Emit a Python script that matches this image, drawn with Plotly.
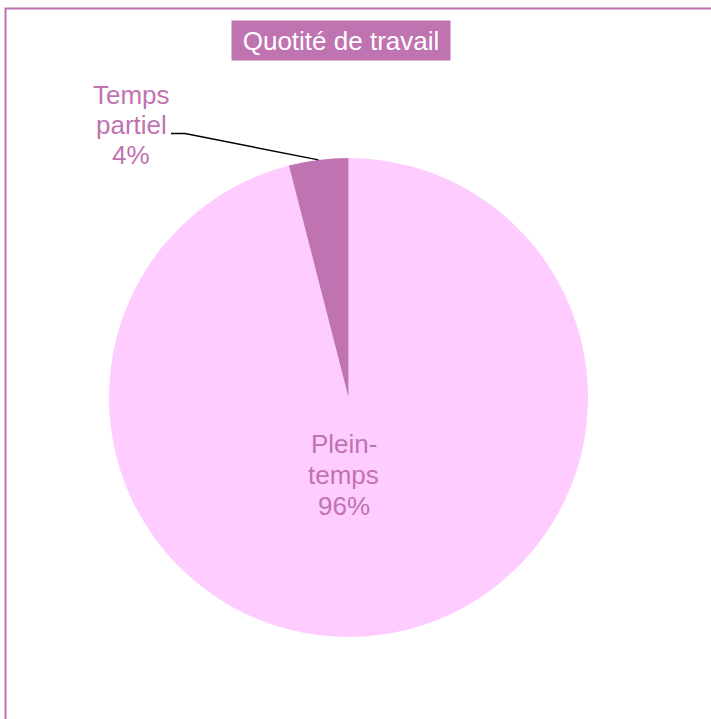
import math
import plotly.graph_objects as go

# Data
categories = ["Plein-temps", "Temps partiel"]
label_lines = [["Plein-", "temps"], ["Temps", "partiel"]]
values = [96, 4]
title_text = "Quotité de travail"

W, H = 711, 719
PURPLE = "#BF73B1"
PINK = "#FFCCFF"
FONT = "Liberation Sans, Arial, sans-serif"

# Pie geometry (pixels)
cx, cy, r = 348.5, 397.5, 239.5

def px(x):
    return x / W

def py(y):
    return 1 - y / H

fig = go.Figure()
fig.add_trace(go.Pie(
    labels=categories,
    values=values,
    textinfo="none",
    marker=dict(colors=[PINK, PURPLE], line=dict(width=0)),
    sort=False,
    direction="clockwise",
    rotation=0,
    showlegend=False,
    hoverinfo="label+percent",
    domain=dict(x=[px(cx - r), px(cx + r)], y=[py(cy + r), py(cy - r)]),
))

total = sum(values)
pcts = [round(v / total * 100) for v in values]

# Temps partiel leader: point on the slice edge at its mid angle (computed from the data)
mid_frac = values[0] / total + values[1] / total / 2
ang = 2 * math.pi * mid_frac  # clockwise from 12 o'clock
tip_x = cx + r * math.sin(ang)
tip_y = cy - r * math.cos(ang)

elbow_x0, elbow_x1, elbow_y = 171, 185, 133.5

shapes = [
    dict(type="path", xref="paper", yref="paper",
         path=f"M {px(elbow_x0)},{py(elbow_y)} L {px(elbow_x1)},{py(elbow_y)} L {px(tip_x)},{py(tip_y)}",
         line=dict(color="black", width=1.5)),
    # outer frame
    dict(type="rect", xref="paper", yref="paper",
         x0=px(5.5), x1=1.05, y0=-0.05, y1=py(8.5),
         line=dict(color=PURPLE, width=2), fillcolor="rgba(0,0,0,0)"),
]

annotations = []

def add_label(lines, x, y0, step):
    for i, t in enumerate(lines):
        annotations.append(dict(
            text=t, x=px(x), y=py(y0 + i * step), xref="paper", yref="paper",
            showarrow=False, xanchor="center", yanchor="middle",
            font=dict(family=FONT, size=26, color=PURPLE)))

add_label(label_lines[0] + [f"{pcts[0]}%"], 343.5, 444, 31)
add_label(label_lines[1] + [f"{pcts[1]}%"], 131, 95, 30)

annotations.append(dict(
    text=title_text, x=px(341), y=py(40.5), xref="paper", yref="paper",
    showarrow=False, xanchor="center", yanchor="middle",
    font=dict(family=FONT, size=26, color="white"),
    bgcolor=PURPLE, width=210, height=31, borderpad=4))

fig.update_layout(
    width=W, height=H,
    margin=dict(l=0, r=0, t=0, b=0),
    paper_bgcolor="white", plot_bgcolor="white",
    shapes=shapes, annotations=annotations,
)

fig.write_html("out.html", config={"displayModeBar": False},
               post_script="document.body.style.margin='0';document.body.style.overflow='hidden';")
